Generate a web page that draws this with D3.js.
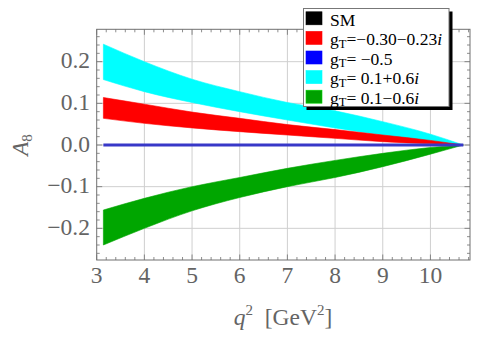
<!DOCTYPE html>
<html>
<head>
<meta charset="utf-8">
<script src="https://cdn.jsdelivr.net/npm/d3@7"></script>
<style>
  body { margin: 0; background: #fff; }
  svg { display: block; }
  text { font-family: "Liberation Serif", "DejaVu Serif", serif; }
</style>
</head>
<body>
<svg width="500" height="342"></svg>
<script>
// values
const q2 = [3.14, 4, 5, 6, 7, 8, 9, 10, 10.69];
const cyanHi  = [0.242, 0.200, 0.158, 0.128, 0.102, 0.082, 0.056, 0.026, 0];
const cyanLo  = [0.157, 0.128, 0.102, 0.080, 0.060, 0.041, 0.024, 0.009, 0];
const redHi   = [0.114, 0.098, 0.079, 0.064, 0.049, 0.037, 0.024, 0.011, 0];
const redLo   = [0.064, 0.052, 0.041, 0.032, 0.024, 0.016, 0.008, 0.003, 0];
const greenHi = [-0.156, -0.128, -0.100, -0.078, -0.056, -0.037, -0.020, -0.006, 0];
const greenLo = [-0.240, -0.200, -0.158, -0.126, -0.100, -0.078, -0.052, -0.022, 0];
const smLine  = [0, 0, 0, 0, 0, 0, 0, 0, 0];

const xTicks = [3, 4, 5, 6, 7, 8, 9, 10];
const yTicks = [-0.2, -0.1, 0.0, 0.1, 0.2];
const legendLabels = ["SM", "=\u22120.30\u22120.23", "= \u22120.5", "= 0.1+0.6", "= 0.1\u22120.6"];
const legendItalic = ["", "i", "", "i", "i"];
const legendColors = ["#000000", "#ff0000", "#0000ff", "#00ffff", "#00a000"];

const pL = 96.7, pR = 470, pT = 29.3, pB = 260;
const x = d3.scaleLinear().domain([3, 10.83]).range([pL, pR]);
const y = d3.scaleLinear().domain([-0.276, 0.2777]).range([pB, pT]);

const svg = d3.select("svg");
const frameColor = "#707070";

// grid
const grid = svg.append("g").attr("stroke", "#cfcfcf").attr("stroke-width", 1);
grid.selectAll(".gx").data(xTicks.slice(1)).enter().append("line")
  .attr("x1", d => x(d)).attr("x2", d => x(d)).attr("y1", pT).attr("y2", pB);
grid.selectAll(".gy").data(yTicks).enter().append("line")
  .attr("y1", d => y(d)).attr("y2", d => y(d)).attr("x1", pL).attr("x2", pR);

// bands
function band(hi, lo, color) {
  const pts = q2.map((d, i) => ({ q: d, hi: hi[i], lo: lo[i] }));
  const area = d3.area().curve(d3.curveMonotoneX)
    .x(d => x(d.q)).y0(d => y(d.lo)).y1(d => y(d.hi));
  svg.append("path").datum(pts).attr("d", area).attr("fill", color)
    .attr("stroke", color).attr("stroke-width", 0.6);
}
band(cyanHi, cyanLo, "#00ffff");
band(redHi, redLo, "#ff0000");
band(greenHi, greenLo, "#00a600");

const line = d3.line().x((d, i) => x(q2[i])).y(d => y(d));
svg.append("path").datum(smLine).attr("d", line).attr("fill", "none")
  .attr("stroke", "#3838c8").attr("stroke-width", 3);

// frame
svg.append("rect").attr("x", pL).attr("y", pT)
  .attr("width", pR - pL).attr("height", pB - pT)
  .attr("fill", "none").attr("stroke", frameColor).attr("stroke-width", 1);

// inward ticks on all four sides
const xMinor = d3.range(3, 10.81, 0.2);
const yMinor = d3.range(-0.26, 0.2701, 0.02);
const tk = svg.append("g").attr("stroke", frameColor).attr("stroke-width", 0.8);
function isMajor(v, step) { return Math.abs(v / step - Math.round(v / step)) < 1e-6; }
xMinor.forEach(v => {
  const len = isMajor(v, 1) ? 5.5 : 3;
  tk.append("line").attr("x1", x(v)).attr("x2", x(v)).attr("y1", pB).attr("y2", pB - len);
  tk.append("line").attr("x1", x(v)).attr("x2", x(v)).attr("y1", pT).attr("y2", pT + len);
});
yMinor.forEach(v => {
  const len = isMajor(v, 0.1) ? 5.5 : 3;
  tk.append("line").attr("y1", y(v)).attr("y2", y(v)).attr("x1", pL).attr("x2", pL + len);
  tk.append("line").attr("y1", y(v)).attr("y2", y(v)).attr("x1", pR).attr("x2", pR - len);
});

// tick labels
const labColor = "#646464";
svg.append("g").selectAll("text").data(xTicks).enter().append("text")
  .attr("x", d => x(d)).attr("y", 283.3).attr("text-anchor", "middle")
  .attr("font-size", 23.5).attr("fill", labColor).text(d => d);
svg.append("g").selectAll("text").data(yTicks).enter().append("text")
  .attr("x", 90).attr("y", d => y(d) + 6.8).attr("text-anchor", "end")
  .attr("font-size", 23.5).attr("fill", labColor)
  .text(d => d3.format(".1f")(d).replace("-", "\u2212"));

// axis labels
const xl = svg.append("text").attr("x", 283).attr("y", 325).attr("text-anchor", "middle")
  .attr("font-size", 23.5).attr("fill", labColor);
xl.append("tspan").attr("font-style", "italic").text("q");
xl.append("tspan").attr("font-size", 15).attr("dy", -10).text("2");
xl.append("tspan").attr("dy", 10).text("\u00a0\u00a0[GeV");
xl.append("tspan").attr("font-size", 15).attr("dy", -10).text("2");
xl.append("tspan").attr("dy", 10).text("]");

const yl = svg.append("text").attr("transform", "translate(28,145) rotate(-90)")
  .attr("text-anchor", "middle").attr("font-size", 23).attr("fill", labColor);
yl.append("tspan").attr("font-style", "italic").text("A");
yl.append("tspan").attr("font-size", 15).attr("dy", 4).text("8");

// legend
const lg = svg.append("g");
lg.append("rect").attr("x", 306.5).attr("y", 11.5).attr("width", 146).attr("height", 98.5).attr("fill", "#000");
lg.append("rect").attr("x", 303.5).attr("y", 8.5).attr("width", 145.5).attr("height", 98)
  .attr("fill", "#fff").attr("stroke", "#777").attr("stroke-width", 1);
legendLabels.forEach((lab, i) => {
  const cy = 18.3 + i * 19.6;
  lg.append("rect").attr("x", 306).attr("y", cy - 6.5).attr("width", 16).attr("height", 13)
    .attr("fill", legendColors[i]).attr("stroke", d3.color(legendColors[i]).brighter(0.8)).attr("stroke-width", 0.6);
  const t = lg.append("text").attr("x", 330).attr("y", cy + 7.2).attr("font-size", 17.5).attr("fill", "#000");
  if (i === 0) { t.text(lab); return; }
  t.append("tspan").text("g");
  t.append("tspan").attr("font-size", 12.5).attr("dy", 2.5).text("T");
  t.append("tspan").attr("dy", -2.5).text(lab);
  if (legendItalic[i]) t.append("tspan").attr("font-style", "italic").text(legendItalic[i]);
});
</script>
</body>
</html>
